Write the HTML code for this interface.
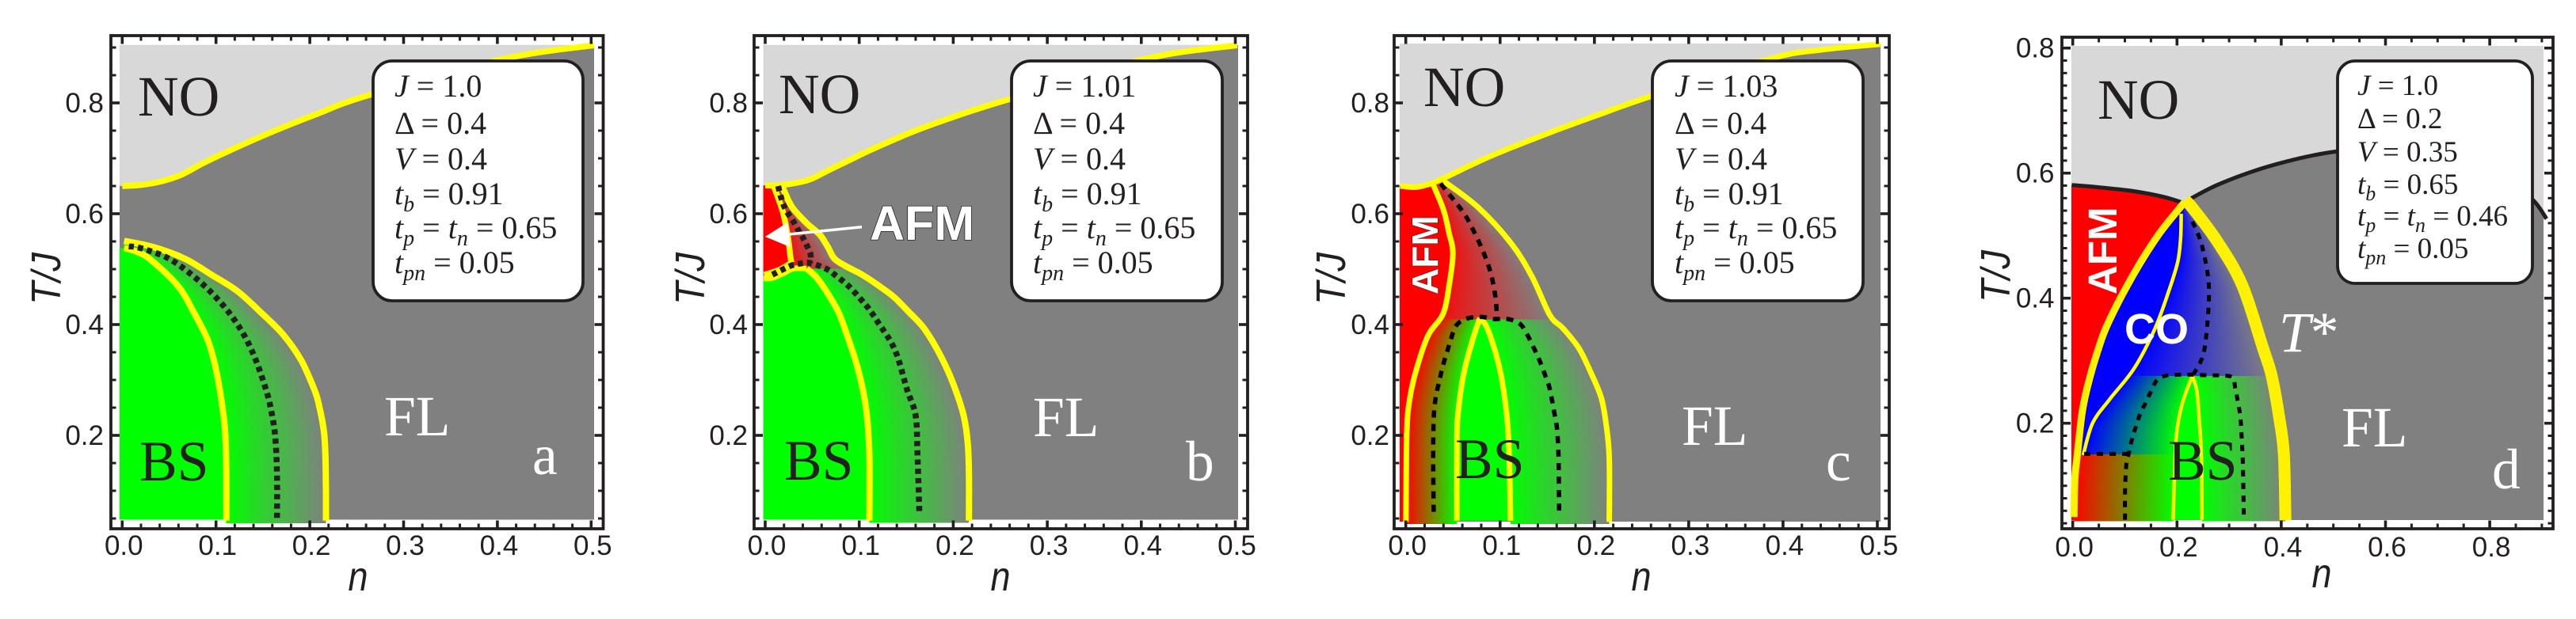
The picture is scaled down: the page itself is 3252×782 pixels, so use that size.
<!DOCTYPE html>
<html lang="en">
<head>
<meta charset="utf-8">
<title>Phase diagrams T/J versus n</title>
<style>
html,body{margin:0;padding:0;background:#fff;}
svg{display:block;}
text{fill:#231f20;}
.sans{font-family:"Liberation Sans",sans-serif;}
.serif{font-family:"Liberation Serif",serif;}
.big{font-family:"Liberation Serif",serif;font-size:71.5px;}
.w{fill:#fff;}
.leg{font-family:"Liberation Serif",serif;font-size:40px;}
.legd{font-family:"Liberation Serif",serif;font-size:37px;}
.i{font-style:italic;}
.axt{font-family:"Liberation Sans",sans-serif;font-style:italic;font-size:52px;}
.tick{font-family:"Liberation Sans",sans-serif;font-size:35px;}
.afm{font-family:"Liberation Sans",sans-serif;font-weight:bold;fill:#fff;}
</style>
</head>
<body>
<svg id="figure" xmlns="http://www.w3.org/2000/svg" width="3252" height="782" viewBox="0 0 3252 782">
<defs>
<linearGradient id="green-gray"><stop offset="0" stop-color="#00ff00"/><stop offset="1" stop-color="#808080"/></linearGradient>
<linearGradient id="red-gray"><stop offset="0" stop-color="#f01010"/><stop offset="1" stop-color="#808080"/></linearGradient>
<linearGradient id="red-green"><stop offset="0" stop-color="#ff0000"/><stop offset="1" stop-color="#00ff00"/></linearGradient>
<linearGradient id="blue-gray"><stop offset="0" stop-color="#0000ff"/><stop offset="1" stop-color="#808080"/></linearGradient>
<linearGradient id="blue-green"><stop offset="0" stop-color="#0000ff"/><stop offset="1" stop-color="#00ff00"/></linearGradient>
</defs>

<!-- PANEL A -->
<g id="panel-a">
<g id="plot-a"></g>
<g id="axes-a"></g>
<text class="big" x="174" y="146">NO</text>
<text class="big" x="176" y="607">BS</text>
<text class="big w" x="485" y="550">FL</text>
<text class="big w" x="672" y="599">a</text>
<rect x="471" y="77" width="265" height="303" rx="24" fill="#fff" stroke="#231f20" stroke-width="3.8"/>
<g class="leg">
<text x="498" y="122"><tspan class="i">J</tspan> = 1.0</text>
<text x="498" y="169">Δ = 0.4</text>
<text x="498" y="214"><tspan class="i">V</tspan> = 0.4</text>
<text x="498" y="258"><tspan class="i">t</tspan><tspan class="i" font-size="28" dy="9">b</tspan><tspan dy="-9"> = 0.91</tspan></text>
<text x="498" y="301"><tspan class="i">t</tspan><tspan class="i" font-size="28" dy="9">p</tspan><tspan dy="-9"> = </tspan><tspan class="i">t</tspan><tspan class="i" font-size="28" dy="9">n</tspan><tspan dy="-9"> = 0.65</tspan></text>
<text x="498" y="345"><tspan class="i">t</tspan><tspan class="i" font-size="28" dy="9">pn</tspan><tspan dy="-9"> = 0.05</tspan></text>
</g>
<text class="axt" x="452" y="746" text-anchor="middle" textLength="25" lengthAdjust="spacingAndGlyphs">n</text>
<text class="axt" transform="translate(76,352) rotate(-90)" text-anchor="middle" textLength="66" lengthAdjust="spacingAndGlyphs">T/J</text>
</g>

<!-- PANEL B -->
<g id="panel-b">
<g id="plot-b"></g>
<g id="axes-b"></g>
<text class="big" x="983" y="143">NO</text>
<text class="big" x="990" y="606">BS</text>
<text class="big w" x="1304" y="551">FL</text>
<text class="big w" x="1497" y="607">b</text>
<line x1="1088" y1="286.7" x2="996" y2="296" stroke="#fff" stroke-width="3.5"/>
<polygon points="966,299 994.3,281 997.7,312.3" fill="#fff"/>
<text class="afm" x="1098" y="303" font-size="61" stroke="#231f20" stroke-width="1.6" paint-order="stroke">AFM</text>
<rect x="1277" y="77" width="266" height="303" rx="24" fill="#fff" stroke="#231f20" stroke-width="3.8"/>
<g class="leg">
<text x="1304" y="122"><tspan class="i">J</tspan> = 1.01</text>
<text x="1304" y="169">Δ = 0.4</text>
<text x="1304" y="214"><tspan class="i">V</tspan> = 0.4</text>
<text x="1304" y="258"><tspan class="i">t</tspan><tspan class="i" font-size="28" dy="9">b</tspan><tspan dy="-9"> = 0.91</tspan></text>
<text x="1304" y="301"><tspan class="i">t</tspan><tspan class="i" font-size="28" dy="9">p</tspan><tspan dy="-9"> = </tspan><tspan class="i">t</tspan><tspan class="i" font-size="28" dy="9">n</tspan><tspan dy="-9"> = 0.65</tspan></text>
<text x="1304" y="345"><tspan class="i">t</tspan><tspan class="i" font-size="28" dy="9">pn</tspan><tspan dy="-9"> = 0.05</tspan></text>
</g>
<text class="axt" x="1263" y="746" text-anchor="middle" textLength="25" lengthAdjust="spacingAndGlyphs">n</text>
<text class="axt" transform="translate(889,352) rotate(-90)" text-anchor="middle" textLength="66" lengthAdjust="spacingAndGlyphs">T/J</text>
</g>

<!-- PANEL C -->
<g id="panel-c">
<g id="plot-c"></g>
<g id="axes-c"></g>
<text class="big" x="1797" y="134">NO</text>
<text class="big" x="1837" y="604">BS</text>
<text class="big w" x="2123" y="562">FL</text>
<text class="big w" x="2305" y="607">c</text>
<text class="afm" transform="translate(1815,372) rotate(-90)" font-size="46" stroke="#231f20" stroke-width="1" paint-order="stroke">AFM</text>
<rect x="2086" y="77" width="266" height="303" rx="24" fill="#fff" stroke="#231f20" stroke-width="3.8"/>
<g class="leg">
<text x="2114" y="122"><tspan class="i">J</tspan> = 1.03</text>
<text x="2114" y="169">Δ = 0.4</text>
<text x="2114" y="214"><tspan class="i">V</tspan> = 0.4</text>
<text x="2114" y="258"><tspan class="i">t</tspan><tspan class="i" font-size="28" dy="9">b</tspan><tspan dy="-9"> = 0.91</tspan></text>
<text x="2114" y="301"><tspan class="i">t</tspan><tspan class="i" font-size="28" dy="9">p</tspan><tspan dy="-9"> = </tspan><tspan class="i">t</tspan><tspan class="i" font-size="28" dy="9">n</tspan><tspan dy="-9"> = 0.65</tspan></text>
<text x="2114" y="345"><tspan class="i">t</tspan><tspan class="i" font-size="28" dy="9">pn</tspan><tspan dy="-9"> = 0.05</tspan></text>
</g>
<text class="axt" x="2072" y="746" text-anchor="middle" textLength="25" lengthAdjust="spacingAndGlyphs">n</text>
<text class="axt" transform="translate(1698,352) rotate(-90)" text-anchor="middle" textLength="66" lengthAdjust="spacingAndGlyphs">T/J</text>
</g>

<!-- PANEL D -->
<g id="panel-d">
<g id="plot-d"></g>
<g id="axes-d"></g>
<text class="big" x="2648" y="150">NO</text>
<text class="big" x="2737" y="606">BS</text>
<text class="big w" x="2956" y="564">FL</text>
<text class="big w" x="3146" y="617">d</text>
<text class="big w" x="2877" y="444"><tspan class="i">T</tspan>*</text>
<text class="afm" transform="translate(2672,372) rotate(-90)" font-size="51">AFM</text>
<text class="afm" x="2682" y="434" font-size="54">CO</text>
<rect x="2951" y="77" width="246" height="281" rx="22" fill="#fff" stroke="#231f20" stroke-width="3.8"/>
<g class="legd">
<text x="2976" y="120"><tspan class="i">J</tspan> = 1.0</text>
<text x="2976" y="162">Δ = 0.2</text>
<text x="2976" y="204"><tspan class="i">V</tspan> = 0.35</text>
<text x="2976" y="245"><tspan class="i">t</tspan><tspan class="i" font-size="26" dy="8">b</tspan><tspan dy="-8"> = 0.65</tspan></text>
<text x="2976" y="285"><tspan class="i">t</tspan><tspan class="i" font-size="26" dy="8">p</tspan><tspan dy="-8"> = </tspan><tspan class="i">t</tspan><tspan class="i" font-size="26" dy="8">n</tspan><tspan dy="-8"> = 0.46</tspan></text>
<text x="2976" y="326"><tspan class="i">t</tspan><tspan class="i" font-size="26" dy="8">pn</tspan><tspan dy="-8"> = 0.05</tspan></text>
</g>
<text class="axt" x="2931" y="742" text-anchor="middle" textLength="25" lengthAdjust="spacingAndGlyphs">n</text>
<text class="axt" transform="translate(2537,349) rotate(-90)" text-anchor="middle" textLength="66" lengthAdjust="spacingAndGlyphs">T/J</text>
</g>
</svg>

<script>
// ---------- tick data ----------
const xTickValuesABC = [0, 0.1, 0.2, 0.3, 0.4, 0.5];
const xTickLabelsABC = ['0.0', '0.1', '0.2', '0.3', '0.4', '0.5'];
const xTickValuesD = [0, 0.2, 0.4, 0.6, 0.8];
const xTickLabelsD = ['0.0', '0.2', '0.4', '0.6', '0.8'];
const yTickValues = [0.2, 0.4, 0.6, 0.8];
const yTickLabels = ['0.2', '0.4', '0.6', '0.8'];

// ---------- panel a curves (n, T/J) ----------
const aNoN = [0, 0.02, 0.043, 0.064, 0.086, 0.108, 0.153, 0.206, 0.263, 0.405, 0.503];
const aNoT = [0.65, 0.652, 0.659, 0.671, 0.691, 0.709, 0.743, 0.779, 0.814, 0.879, 0.904];
const aInnerN = [0.002, 0.0161, 0.0302, 0.0597, 0.0766, 0.0907, 0.0991, 0.1067, 0.11, 0.111, 0.111];
const aInnerT = [0.538, 0.531, 0.517, 0.469, 0.421, 0.374, 0.326, 0.253, 0.2, 0.129, 0.046];
const aOuterN = [0.002, 0.0328, 0.0666, 0.095, 0.123, 0.1484, 0.171, 0.1906, 0.2047, 0.21, 0.215, 0.2166, 0.2172, 0.2172];
const aOuterT = [0.551, 0.54, 0.519, 0.49, 0.46, 0.421, 0.383, 0.336, 0.283, 0.253, 0.207, 0.164, 0.1, 0.046];
const aDotN = [0.007, 0.0194, 0.0476, 0.0718, 0.0943, 0.1146, 0.1309, 0.1433, 0.1532, 0.158, 0.163, 0.165, 0.165];
const aDotT = [0.541, 0.538, 0.521, 0.493, 0.459, 0.42, 0.378, 0.332, 0.283, 0.252, 0.2, 0.129, 0.046];

// ---------- panel b curves ----------
const bNoN = [0, 0.019, 0.046, 0.068, 0.09, 0.112, 0.16, 0.213, 0.26, 0.403, 0.502];
const bNoT = [0.651, 0.652, 0.661, 0.679, 0.697, 0.715, 0.75, 0.782, 0.807, 0.879, 0.904];
const bRedEdgeN = [0.009, 0.019, 0.0244, 0.027, 0.028];
const bRedEdgeT = [0.65, 0.602, 0.555, 0.521, 0.512];
const bRedFootN = [0.028, 0.016, -0.001];
const bRedFootT = [0.512, 0.5, 0.49];
const bGreenTopN = [-0.0015, 0.0076, 0.019, 0.03, 0.044];
const bGreenTopT = [0.483, 0.484, 0.492, 0.501, 0.501];
const bGreenEdgeN = [0.044, 0.054, 0.065, 0.0775, 0.086, 0.0985, 0.1072, 0.1108, 0.1108];
const bGreenEdgeT = [0.501, 0.486, 0.46, 0.424, 0.386, 0.321, 0.25, 0.164, 0.046];
const bOuterN = [0.016, 0.019, 0.0286, 0.0441, 0.0581, 0.0666, 0.0736, 0.0862, 0.103, 0.12, 0.1367, 0.152, 0.169, 0.1867, 0.2, 0.211, 0.2154, 0.2167, 0.2167];
const bOuterT = [0.65, 0.645, 0.612, 0.583, 0.562, 0.54, 0.519, 0.505, 0.49, 0.471, 0.45, 0.424, 0.393, 0.343, 0.293, 0.236, 0.186, 0.129, 0.046];
const bDotUpperN = [0.0138, 0.0166, 0.0197, 0.0244, 0.03, 0.035, 0.04, 0.0447, 0.0483, 0.048];
const bDotUpperT = [0.65, 0.631, 0.615, 0.6, 0.586, 0.571, 0.557, 0.541, 0.526, 0.511];
const bDotLowerN = [0.0076, 0.027, 0.037, 0.048, 0.0657, 0.0739, 0.089, 0.103, 0.1095, 0.12, 0.138, 0.151, 0.16, 0.162, 0.164];
const bDotLowerT = [0.49, 0.506, 0.51, 0.511, 0.5, 0.49, 0.469, 0.443, 0.43, 0.404, 0.354, 0.282, 0.236, 0.164, 0.057];

// ---------- panel c curves ----------
const cNoN = [-0.006, 0.011, 0.026, 0.04, 0.09, 0.152, 0.205, 0.26, 0.387, 0.442, 0.503];
const cNoT = [0.65, 0.648, 0.654, 0.664, 0.704, 0.746, 0.779, 0.812, 0.88, 0.896, 0.906];
const cRedEdgeN = [0.0286, 0.04, 0.046, 0.05, 0.046, 0.0395, 0.0239, 0.0113, 0.0044, 0.0011, 0.0002];
const cRedEdgeT = [0.654, 0.607, 0.564, 0.529, 0.471, 0.419, 0.381, 0.319, 0.267, 0.205, 0.044];
const cOuterN = [0.04, 0.077, 0.112, 0.134, 0.1528, 0.1668, 0.1836, 0.196, 0.2074, 0.2129, 0.2158, 0.2158];
const cOuterT = [0.659, 0.611, 0.546, 0.486, 0.417, 0.393, 0.357, 0.314, 0.267, 0.214, 0.157, 0.044];
const cInnerLeftN = [0.0786, 0.0716, 0.0618, 0.0563, 0.0543, 0.0543];
const cInnerLeftT = [0.412, 0.376, 0.314, 0.252, 0.196, 0.046];
const cInnerRightN = [0.0786, 0.0857, 0.0954, 0.1025, 0.108, 0.11, 0.111];
const cInnerRightT = [0.412, 0.396, 0.348, 0.295, 0.219, 0.138, 0.046];
const cDashLowerN = [0.0296, 0.0291, 0.0296, 0.0316, 0.0358, 0.0394, 0.0437, 0.0479, 0.0534, 0.0632, 0.0786, 0.0935, 0.108, 0.1212, 0.129, 0.136, 0.1416, 0.147, 0.152, 0.155, 0.1576, 0.16, 0.1613, 0.162, 0.1626];
const cDashLowerT = [0.062, 0.157, 0.229, 0.267, 0.3, 0.326, 0.35, 0.374, 0.398, 0.41, 0.414, 0.41, 0.41, 0.401, 0.381, 0.357, 0.336, 0.312, 0.288, 0.264, 0.24, 0.217, 0.19, 0.157, 0.062];
const cDashUpperN = [0.037, 0.059, 0.068, 0.081, 0.09, 0.095, 0.097];
const cDashUpperT = [0.654, 0.607, 0.582, 0.536, 0.493, 0.45, 0.407];

// ---------- panel d curves ----------
const dNoLeftN = [-0.002, 0.054, 0.118, 0.174, 0.2135];
const dNoLeftT = [0.581, 0.577, 0.571, 0.562, 0.552];
const dNoRightN = [0.2215, 0.277, 0.357, 0.437, 0.508, 0.596, 0.755, 0.835, 0.883, 0.909];
const dNoRightT = [0.557, 0.581, 0.606, 0.624, 0.635, 0.641, 0.617, 0.586, 0.557, 0.527];
const dLeftStarN = [0.215, 0.166, 0.118, 0.07, 0.048, 0.0278, 0.0177, 0.009, 0.004, 0.0025];
const dLeftStarT = [0.554, 0.503, 0.44, 0.364, 0.316, 0.257, 0.215, 0.151, 0.109, 0.05];
const dRightStarN = [0.215, 0.229, 0.277, 0.325, 0.365, 0.381, 0.395, 0.405, 0.408];
const dRightStarT = [0.557, 0.545, 0.491, 0.421, 0.32, 0.278, 0.215, 0.151, 0.045];
const dCoEdgeN = [0.208, 0.207, 0.2016, 0.1857, 0.158, 0.118, 0.07, 0.038, 0.02];
const dCoEdgeT = [0.535, 0.497, 0.459, 0.415, 0.352, 0.288, 0.2375, 0.2, 0.149];
const dInnerLeftN = [0.2295, 0.21, 0.199, 0.195, 0.1925];
const dInnerLeftT = [0.2757, 0.231, 0.181, 0.109, 0.0456];
const dInnerRightN = [0.2295, 0.238, 0.243, 0.2467, 0.248];
const dInnerRightT = [0.2757, 0.252, 0.202, 0.151, 0.0456];
const dDashLowerN = [0.1003, 0.1003, 0.1028, 0.1073, 0.114, 0.1205, 0.129, 0.139, 0.151, 0.162, 0.18, 0.2076, 0.233, 0.2558, 0.281, 0.3064, 0.3115, 0.3166, 0.3216, 0.3242, 0.3257, 0.3267, 0.3283];
const dDashLowerT = [0.0456, 0.092, 0.134, 0.151, 0.176, 0.193, 0.2144, 0.2313, 0.2524, 0.2692, 0.2764, 0.2776, 0.2776, 0.2768, 0.2764, 0.2734, 0.2566, 0.2355, 0.21, 0.176, 0.151, 0.1215, 0.0456];
const dDashUpperN = [0.2295, 0.2454, 0.2574, 0.2614, 0.2574, 0.2494, 0.2295];
const dDashUpperT = [0.5224, 0.4908, 0.4464, 0.4085, 0.3515, 0.3072, 0.2756];
const dDashShelfN = [0.0217, 0.1073];
const dDashShelfT = [0.151, 0.151];

// ---------- drawing helpers ----------
const NS = 'http://www.w3.org/2000/svg';
const YELLOW = '#ffff00';
const DARK = '#231f20';

function makeScale(x0, kx, y8, ky) {
  return {
    x: function (n) { return x0 + kx * n; },
    y: function (T) { return y8 + (0.8 - T) * ky; },
    t: function (y) { return 0.8 - (y - y8) / ky; }
  };
}
function toPixels(s, ns, ts) {
  return ns.map(function (n, i) { return [s.x(n), s.y(ts[i])]; });
}
function smoothPath(p) {
  let d = 'M' + p[0][0].toFixed(1) + ' ' + p[0][1].toFixed(1);
  for (let i = 0; i < p.length - 1; i++) {
    const a = p[Math.max(i - 1, 0)], b = p[i], c = p[i + 1], e = p[Math.min(i + 2, p.length - 1)];
    const c1x = b[0] + (c[0] - a[0]) / 6, c1y = b[1] + (c[1] - a[1]) / 6;
    const c2x = c[0] - (e[0] - b[0]) / 6, c2y = c[1] - (e[1] - b[1]) / 6;
    d += 'C' + c1x.toFixed(1) + ' ' + c1y.toFixed(1) + ' ' + c2x.toFixed(1) + ' ' + c2y.toFixed(1) + ' ' + c[0].toFixed(1) + ' ' + c[1].toFixed(1);
  }
  return d;
}
function curve(g, s, ns, ts, color, width, dash, name) {
  const el = document.createElementNS(NS, 'path');
  
  
  el.setAttribute('d', smoothPath(toPixels(s, ns, ts)));
  el.setAttribute('fill', 'none');
  el.setAttribute('stroke', color);
  el.setAttribute('stroke-width', width);
  el.setAttribute('stroke-linejoin', 'round');
  if (dash) el.setAttribute('stroke-dasharray', dash);
  g.appendChild(el);
}
function area(g, pts, color, name) {
  const el = document.createElementNS(NS, 'polygon');
  
  
  el.setAttribute('points', pts.map(function (p) { return p[0].toFixed(1) + ',' + p[1].toFixed(1); }).join(' '));
  el.setAttribute('fill', color);
  g.appendChild(el);
}
function box(g, f, color, name) {
  const el = document.createElementNS(NS, 'rect');
  
  
  el.setAttribute('x', f[0]);
  el.setAttribute('y', f[1]);
  el.setAttribute('width', f[2] - f[0]);
  el.setAttribute('height', f[3] - f[1]);
  el.setAttribute('fill', color);
  g.appendChild(el);
}
function nAt(ns, ts, T) {
  for (let i = 0; i < ts.length - 1; i++) {
    const lo = Math.min(ts[i], ts[i + 1]), hi = Math.max(ts[i], ts[i + 1]);
    if (T >= lo && T <= hi && hi > lo) {
      return ns[i] + (ns[i + 1] - ns[i]) * (T - ts[i]) / (ts[i + 1] - ts[i]);
    }
  }
  let best = 0;
  ts.forEach(function (v, i) { if (Math.abs(v - T) < Math.abs(ts[best] - T)) best = i; });
  return ns[best];
}
function band(g, s, lN, lT, rN, rT, tLow, tHigh, gradient, name) {
  const group = document.createElementNS(NS, 'g');
  
  
  group.setAttribute('shape-rendering', 'crispEdges');
  const step = 3;
  for (let y = s.y(tHigh); y < s.y(tLow); y += step) {
    const T = s.t(y + step / 2);
    const xl = s.x(nAt(lN, lT, T)), xr = s.x(nAt(rN, rT, T));
    if (xr - xl < 0.5) continue;
    const row = document.createElementNS(NS, 'rect');
    
    
    row.setAttribute('x', xl.toFixed(1));
    row.setAttribute('y', y.toFixed(1));
    row.setAttribute('width', (xr - xl).toFixed(1));
    row.setAttribute('height', step + 0.4);
    row.setAttribute('fill', 'url(#' + gradient + ')');
    group.appendChild(row);
  }
  g.appendChild(group);
}
function tickMark(g, x1, y1, x2, y2, w, name) {
  const el = document.createElementNS(NS, 'line');
  
  
  el.setAttribute('x1', x1);
  el.setAttribute('y1', y1);
  el.setAttribute('x2', x2);
  el.setAttribute('y2', y2);
  el.setAttribute('stroke', DARK);
  el.setAttribute('stroke-width', w);
  g.appendChild(el);
}
function tickText(g, x, y, anchor, str, name) {
  const el = document.createElementNS(NS, 'text');
  
  
  el.setAttribute('class', 'tick');
  el.setAttribute('x', x);
  el.setAttribute('y', y);
  el.setAttribute('text-anchor', anchor);
  el.textContent = str;
  g.appendChild(el);
}
function axes(id, s, fr, xVals, xLabs, xStep, xMax, yStep, yMin, yMax, yLabelRight, xLabelY) {
  const g = document.getElementById(id);
  const frame = document.createElementNS(NS, 'rect');
  
  
  frame.setAttribute('x', fr[0]);
  frame.setAttribute('y', fr[1]);
  frame.setAttribute('width', fr[2] - fr[0]);
  frame.setAttribute('height', fr[3] - fr[1]);
  frame.setAttribute('fill', 'none');
  frame.setAttribute('stroke', DARK);
  frame.setAttribute('stroke-width', 3.8);
  g.appendChild(frame);
  for (let i = 0; s.x(i * xStep) < fr[2] && i * xStep <= xMax + 1e-9; i++) {
    const x = s.x(i * xStep);
    tickMark(g, x, fr[3], x, fr[3] - 6.5, 3, 'x-minor-tick');
    tickMark(g, x, fr[1], x, fr[1] + 6.5, 3, 'x-minor-tick');
  }
  xVals.forEach(function (v, i) {
    const x = s.x(v);
    tickMark(g, x, fr[3], x, fr[3] - 10.5, 3.6, 'x-major-tick');
    tickMark(g, x, fr[1], x, fr[1] + 10.5, 3.6, 'x-major-tick');
    tickText(g, x + 2, xLabelY, 'middle', xLabs[i], 'x-tick-label');
  });
  for (let i = 0; yMin + i * yStep <= yMax + 1e-9; i++) {
    const y = s.y(yMin + i * yStep);
    tickMark(g, fr[0], y, fr[0] + 6.5, y, 3, 'y-minor-tick');
    tickMark(g, fr[2], y, fr[2] - 6.5, y, 3, 'y-minor-tick');
  }
  yTickValues.forEach(function (v, i) {
    const y = s.y(v);
    tickMark(g, fr[0], y, fr[0] + 11, y, 3.6, 'y-major-tick');
    tickMark(g, fr[2], y, fr[2] - 11, y, 3.6, 'y-major-tick');
    tickText(g, yLabelRight, y + 12, 'end', yTickLabels[i], 'y-tick-label');
  });
}
function background(g, s, f, noNs, noTs) {
  box(g, f, '#d8d8d8', 'no-region');
  const top = toPixels(s, noNs, noTs);
  const pts = [[f[0], f[3]], [f[0], top[0][1]]].concat(top, [[f[2], top[top.length - 1][1]], [f[2], f[3]]]);
  area(g, pts, '#808080', 'fl-region');
}
function reversed(a) { return a.slice().reverse(); }

// ---------- panel a ----------
(function () {
  const s = makeScale(154.3, 1184, 130, 700);
  const f = [151, 56.7, 750, 656.5];
  const g = document.getElementById('plot-a');
  background(g, s, f, aNoN, aNoT);
  const inner = toPixels(s, aInnerN, aInnerT);
  area(g, [[f[0], f[3]], [f[0], inner[0][1]]].concat(inner, [[inner[inner.length - 1][0], f[3]]]), '#00ff00', 'bs-region');
  band(g, s, aInnerN, aInnerT, aOuterN, aOuterT, 0.044, 0.552, 'green-gray', 'bs-crossover-gradient');
  curve(g, s, aNoN, aNoT, YELLOW, 7.5, null, 'no-boundary-line');
  curve(g, s, aInnerN, aInnerT, YELLOW, 8, null, 'bs-inner-boundary-line');
  curve(g, s, aOuterN, aOuterT, YELLOW, 8, null, 'bs-outer-boundary-line');
  curve(g, s, aDotN, aDotT, DARK, 7.5, '6.5 5.2', 'dotted-crossover-line');
  axes('axes-a', s, [140, 45, 761.5, 668], xTickValuesABC, xTickLabelsABC, 0.02, 0.5, 0.05, 0.05, 0.9, 131, 701);
})();

// ---------- panel b ----------
(function () {
  const s = makeScale(966, 1187, 130, 700);
  const f = [963.6, 56.7, 1563, 656.5];
  const g = document.getElementById('plot-b');
  background(g, s, f, bNoN, bNoT);
  const redEdge = toPixels(s, bRedEdgeN, bRedEdgeT);
  const foot = toPixels(s, bRedFootN, bRedFootT);
  area(g, [[f[0], foot[2][1]], [f[0], s.y(0.651)]].concat(redEdge, foot), '#ff0000', 'afm-region');
  const gTop = toPixels(s, bGreenTopN, bGreenTopT);
  const gEdge = toPixels(s, bGreenEdgeN, bGreenEdgeT);
  area(g, [[f[0], f[3]], [f[0], gTop[0][1]]].concat(gTop, gEdge, [[gEdge[gEdge.length - 1][0], f[3]]]), '#00ff00', 'bs-region');
  band(g, s, bRedEdgeN, bRedEdgeT, bOuterN, bOuterT, 0.501, 0.65, 'red-gray', 'afm-crossover-gradient');
  band(g, s, bGreenEdgeN, bGreenEdgeT, bOuterN, bOuterT, 0.044, 0.501, 'green-gray', 'bs-crossover-gradient');
  curve(g, s, bNoN, bNoT, YELLOW, 7.5, null, 'no-boundary-line');
  curve(g, s, bRedEdgeN, bRedEdgeT, YELLOW, 7.5, null, 'afm-inner-boundary-line');
  curve(g, s, bRedFootN, bRedFootT, YELLOW, 7, null, 'afm-foot-boundary-line');
  curve(g, s, bGreenTopN, bGreenTopT, YELLOW, 7, null, 'bs-top-boundary-line');
  curve(g, s, bGreenEdgeN, bGreenEdgeT, YELLOW, 8, null, 'bs-inner-boundary-line');
  curve(g, s, bOuterN, bOuterT, YELLOW, 8, null, 'outer-boundary-line');
  curve(g, s, bDotUpperN, bDotUpperT, DARK, 7.5, '6.5 5.2', 'dotted-afm-line');
  curve(g, s, bDotLowerN, bDotLowerT, DARK, 7.5, '6.5 5.2', 'dotted-bs-line');
  axes('axes-b', s, [952, 45, 1575, 668], xTickValuesABC, xTickLabelsABC, 0.02, 0.5, 0.05, 0.05, 0.9, 944, 701);
})();

// ---------- panel c ----------
(function () {
  const s = makeScale(1774.7, 1190.6, 130, 700);
  const f = [1767, 55, 2374, 659];
  const g = document.getElementById('plot-c');
  background(g, s, f, cNoN, cNoT);
  const red = toPixels(s, cRedEdgeN, cRedEdgeT);
  area(g, [[f[0], f[3]], [f[0], s.y(0.65)], [s.x(0.011), s.y(0.648)]].concat(red, [[red[red.length - 1][0], f[3]]]), '#ff0000', 'afm-region');
  band(g, s, cRedEdgeN, cRedEdgeT, cOuterN, cOuterT, 0.409, 0.657, 'red-gray', 'afm-crossover-gradient');
  band(g, s, cRedEdgeN, cRedEdgeT, cInnerLeftN, cInnerLeftT, 0.044, 0.409, 'red-green', 'afm-bs-gradient');
  band(g, s, cInnerRightN, cInnerRightT, cOuterN, cOuterT, 0.044, 0.409, 'green-gray', 'bs-crossover-gradient');
  const il = toPixels(s, cInnerLeftN, cInnerLeftT);
  const ir = toPixels(s, cInnerRightN, cInnerRightT);
  area(g, il.concat(reversed(ir)), '#00ff00', 'bs-region');
  curve(g, s, cNoN, cNoT, YELLOW, 7, null, 'no-boundary-line');
  curve(g, s, cRedEdgeN, cRedEdgeT, YELLOW, 7, null, 'afm-boundary-line');
  curve(g, s, cOuterN, cOuterT, YELLOW, 7, null, 'outer-boundary-line');
  curve(g, s, cInnerLeftN, cInnerLeftT, YELLOW, 7, null, 'bs-left-boundary-line');
  curve(g, s, cInnerRightN, cInnerRightT, YELLOW, 7, null, 'bs-right-boundary-line');
  curve(g, s, cDashLowerN, cDashLowerT, '#000', 5.5, '9 8', 'dashed-bs-line');
  curve(g, s, cDashUpperN, cDashUpperT, '#000', 5.5, '9 8', 'dashed-afm-line');
  axes('axes-c', s, [1760, 45, 2385, 668], xTickValuesABC, xTickLabelsABC, 0.02, 0.5, 0.05, 0.05, 0.9, 1754, 701);
})();

// ---------- panel d ----------
(function () {
  const s = makeScale(2616.7, 658, 60.7, 790);
  const f = [2615, 58, 3211, 657];
  const g = document.getElementById('plot-d');
  box(g, f, '#d8d8d8', 'no-region');
  const nl = toPixels(s, dNoLeftN, dNoLeftT);
  const nr = toPixels(s, dNoRightN, dNoRightT);
  area(g, [[f[0], f[3]], [f[0], nl[0][1]]].concat(nl, nr, [[f[2], nr[nr.length - 1][1]], [f[2], f[3]]]), '#808080', 'fl-region');
  const ls = toPixels(s, dLeftStarN, dLeftStarT);
  area(g, [[f[0], f[3]], [f[0], nl[0][1]]].concat(nl, ls, [[ls[ls.length - 1][0], f[3]]]), '#ff0000', 'afm-region');
  const co = toPixels(s, dCoEdgeN, dCoEdgeT);
  area(g, ls.slice(0, ls.length - 2).concat(reversed(co)), '#0000ff', 'co-region');
  band(g, s, dCoEdgeN, dCoEdgeT, dRightStarN, dRightStarT, 0.2755, 0.55, 'blue-gray', 'co-crossover-gradient');
  band(g, s, dCoEdgeN, dCoEdgeT, dInnerLeftN, dInnerLeftT, 0.15, 0.2755, 'blue-green', 'co-bs-gradient');
  band(g, s, dLeftStarN, dLeftStarT, dInnerLeftN, dInnerLeftT, 0.044, 0.15, 'red-green', 'afm-bs-gradient');
  band(g, s, dInnerRightN, dInnerRightT, dRightStarN, dRightStarT, 0.044, 0.2755, 'green-gray', 'bs-crossover-gradient');
  const il = toPixels(s, dInnerLeftN, dInnerLeftT);
  const ir = toPixels(s, dInnerRightN, dInnerRightT);
  area(g, il.concat(reversed(ir)), '#00ff00', 'bs-region');
  curve(g, s, dNoLeftN, dNoLeftT, DARK, 5, null, 'no-afm-boundary-line');
  curve(g, s, dNoRightN, dNoRightT, DARK, 5, null, 'no-fl-boundary-line');
  curve(g, s, dCoEdgeN, dCoEdgeT, YELLOW, 4.5, null, 'co-boundary-line');
  curve(g, s, dInnerLeftN, dInnerLeftT, YELLOW, 4.5, null, 'bs-left-boundary-line');
  curve(g, s, dInnerRightN, dInnerRightT, YELLOW, 4.5, null, 'bs-right-boundary-line');
  curve(g, s, dDashLowerN, dDashLowerT, '#000', 5, '8 8', 'dashed-bs-line');
  curve(g, s, dDashUpperN, dDashUpperT, '#000', 5, '8 8', 'dashed-co-line');
  curve(g, s, dDashShelfN, dDashShelfT, '#000', 5, '8 8', 'dashed-shelf-line');
  curve(g, s, dLeftStarN, dLeftStarT, '#fff200', 9, null, 't-star-left-line');
  curve(g, s, dRightStarN, dRightStarT, '#fff200', 15, null, 't-star-right-line');
  axes('axes-d', s, [2603, 47, 3223, 668], xTickValuesD, xTickLabelsD, 0.05, 0.9, 0.02, 0.04, 0.8, 2593.5, 703);
})();
</script>
</body>
</html>
